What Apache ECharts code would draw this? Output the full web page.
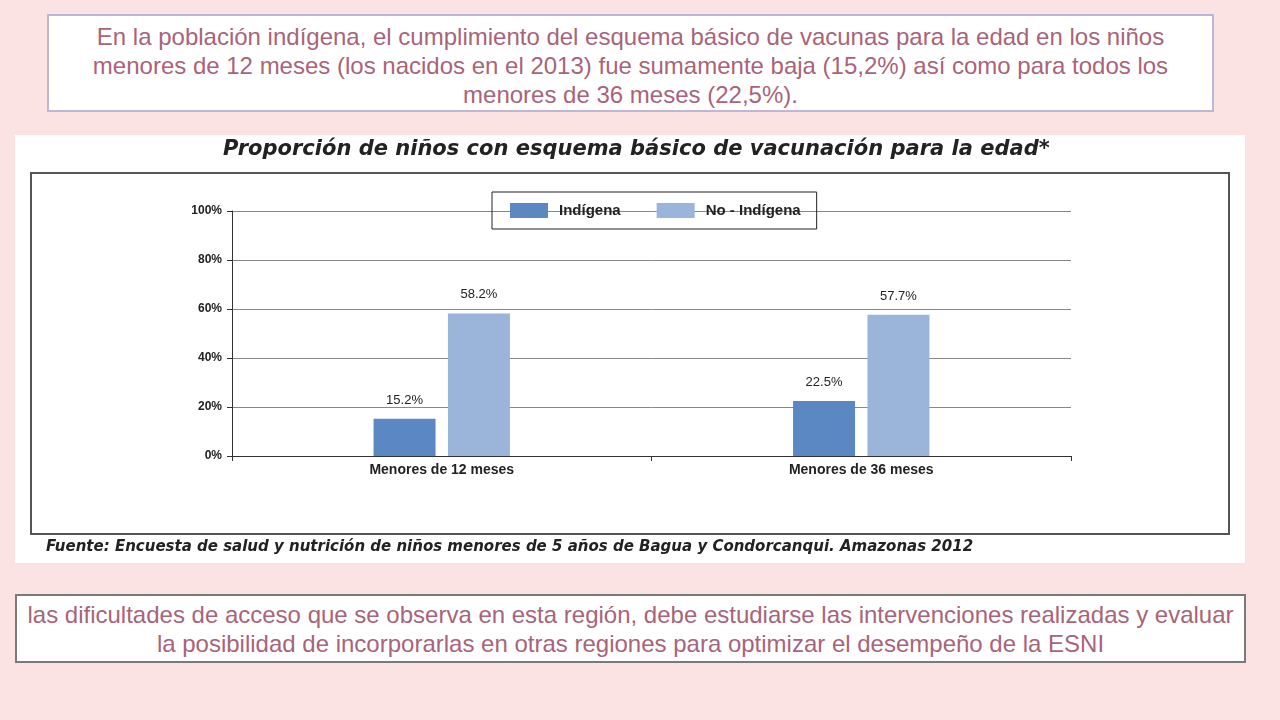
<!DOCTYPE html>
<html><head><meta charset="utf-8">
<script src="https://cdn.jsdelivr.net/npm/echarts@6/dist/echarts.min.js"></script>
<style>
body{margin:0;width:1280px;height:720px;background:#fbe3e3;position:relative;overflow:hidden;font-family:"Liberation Sans",Arial,sans-serif}
.box{position:absolute;background:#fff;color:#a8647a;text-align:center;font-size:24px;line-height:29px;box-sizing:border-box;white-space:nowrap}
#top{left:47px;top:14px;width:1167px;height:98px;border:2px solid #bdb6d6;padding-top:6px}
#bot{left:15px;top:594px;width:1231px;height:69px;border:2px solid #7a7a7a;padding-top:4px}
#chart{position:absolute;left:15px;top:135px;width:1230px;height:428px;background:#fff}
</style></head><body>
<div class="box" id="top">En la población indígena, el cumplimiento del esquema básico de vacunas para la edad en los niños<br>menores de 12 meses (los nacidos en el 2013) fue sumamente baja (15,2%) así como para todos los<br>menores de 36 meses (22,5%).</div>
<div id="chart"></div>
<div class="box" id="bot">las dificultades de acceso que se observa en esta región, debe estudiarse las intervenciones realizadas y evaluar<br>la posibilidad de incorporarlas en otras regiones para optimizar el desempeño de la ESNI</div>
<script>
var categories = ['Menores de 12 meses', 'Menores de 36 meses'];
var indigena = [15.2, 22.5];
var noIndigena = [58.2, 57.7];

var chart = echarts.init(document.getElementById('chart'));
var lbl = {show: true, position: 'top', distance: 12, color: '#222', fontSize: 13, formatter: function(p){ return p.value.toFixed(1) + '%'; }};
chart.setOption({
  animation: false,
  title: {text: 'Proporción de niños con esquema básico de vacunación para la edad*', left: 203, top: -1,
    textStyle: {fontFamily: 'DejaVu Sans', fontStyle: 'italic', fontWeight: 'bold', fontSize: 21, color: '#222'}},
  graphic: [
    {type: 'rect', shape: {x: 16, y: 38, width: 1198, height: 361}, style: {fill: null, stroke: '#555', lineWidth: 2}},
    {type: 'text', left: 31, top: 405, style: {text: 'Fuente: Encuesta de salud y nutrición de niños menores de 5 años de Bagua y Condorcanqui. Amazonas 2012',
      font: 'italic bold 15px "DejaVu Sans"', fill: '#222'}}
  ],
  legend: {top: 57, left: 477, padding: [11, 16, 11, 18], itemGap: 36, itemWidth: 38, itemHeight: 15,
    borderColor: '#222', borderWidth: 1, icon: 'rect',
    textStyle: {fontWeight: 'bold', fontSize: 15, color: '#222', padding: [0, 0, 0, 6]}},
  grid: {left: 217, right: 174, top: 76, bottom: 107},
  xAxis: {type: 'category', data: categories,
    axisLine: {lineStyle: {color: '#333'}}, axisTick: {show: true, length: 5, lineStyle: {color: '#333'}},
    axisLabel: {fontWeight: 'bold', fontSize: 14, color: '#222', margin: 7}},
  yAxis: {type: 'value', min: 0, max: 100, interval: 20,
    axisLine: {show: true, lineStyle: {color: '#333'}}, axisTick: {show: true, length: 5, lineStyle: {color: '#333'}},
    splitLine: {lineStyle: {color: '#888'}},
    axisLabel: {fontWeight: 'bold', fontSize: 12, color: '#222', formatter: '{value}%', margin: 10}},
  series: [
    {name: 'Indígena', type: 'bar', data: indigena, barWidth: 62, barGap: '20%', itemStyle: {color: '#5b87c2'}, label: lbl},
    {name: 'No - Indígena', type: 'bar', data: noIndigena, barWidth: 62, itemStyle: {color: '#9bb4da'}, label: lbl}
  ]
});
</script>
</body></html>
